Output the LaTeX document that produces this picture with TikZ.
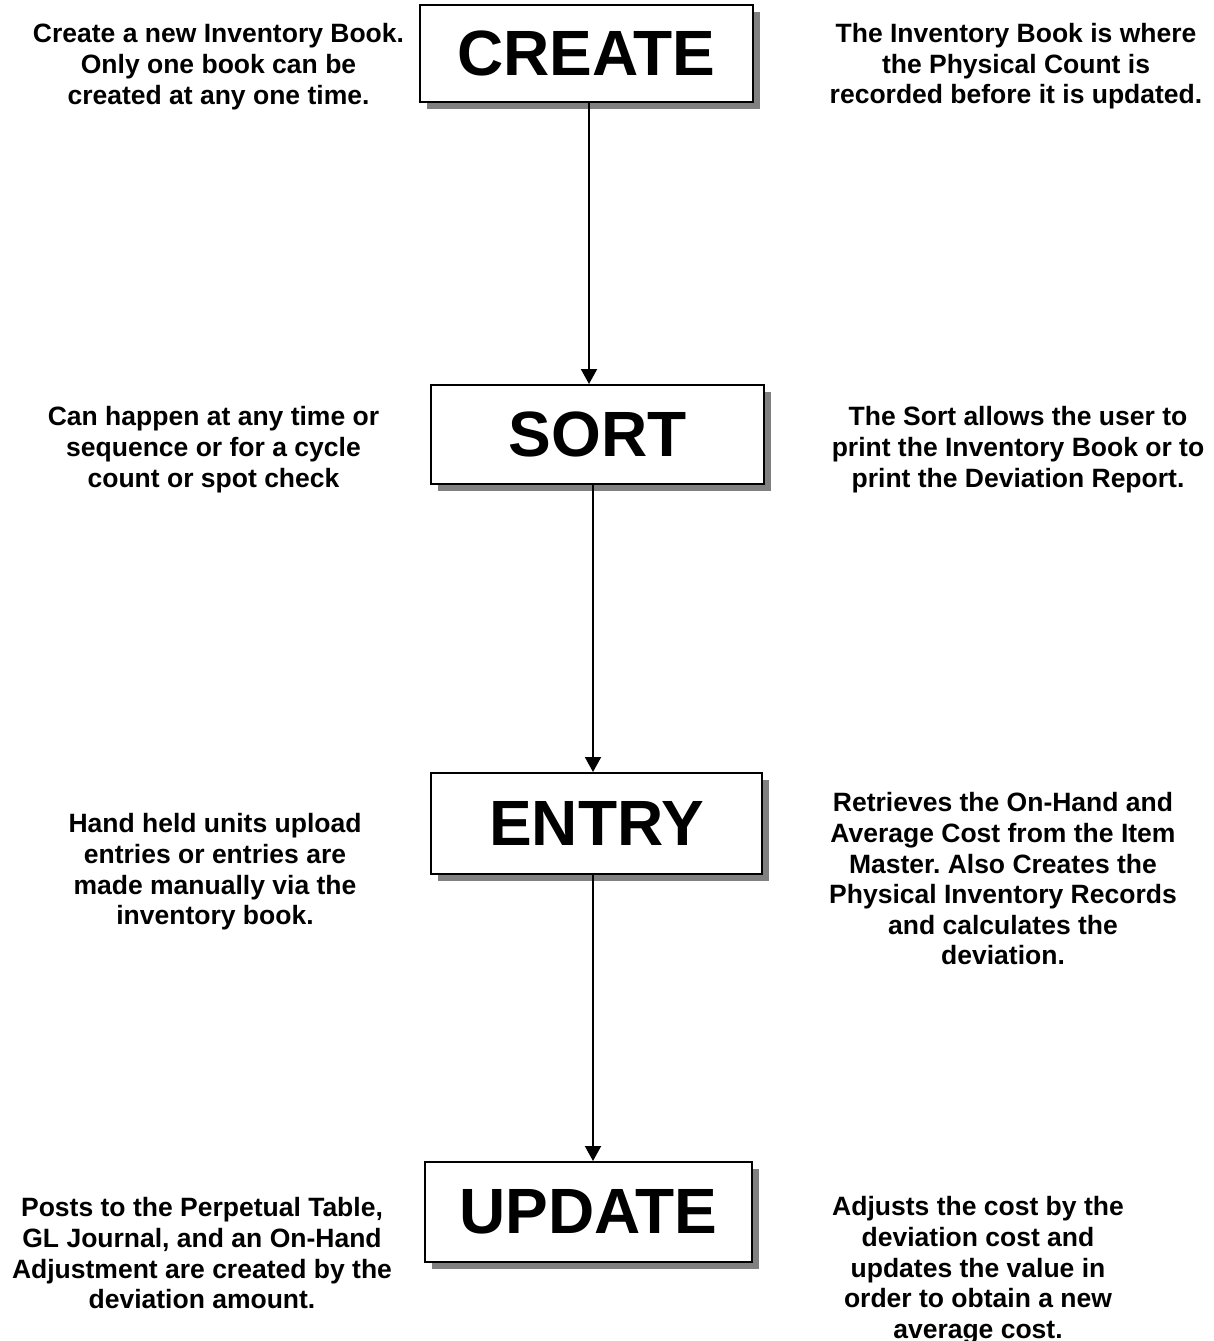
\documentclass[tikz,border=0pt]{standalone}
\usepackage{fontspec}
\setmainfont{Liberation Sans}
\usetikzlibrary{arrows.meta,shadows}
\frenchspacing
\begin{document}
\begin{tikzpicture}[x=1pt,y=-1pt,
  stepbox/.style={draw=black, line width=2pt, fill=white, inner sep=0pt,
    font=\fontsize{64}{70}\selectfont\bfseries,
    drop shadow={shadow xshift=7pt, shadow yshift=-7pt, fill=black!50, opacity=1}},
  desc/.style={anchor=north, inner sep=0pt, align=center,
    font=\fontsize{26.5}{30.6}\selectfont\bfseries},
  conn/.style={draw=black, line width=2pt, -{Triangle[length=15pt,width=16pt]}}]
\useasboundingbox (0,0) rectangle (1214,1341);
% boxes
\node[stepbox, minimum width=333pt, minimum height=97pt] (create) at (586.5,53.5) {CREATE};
\node[stepbox, minimum width=333pt, minimum height=99pt] (sort) at (597.5,434.5) {SORT};
\node[stepbox, minimum width=331pt, minimum height=101pt] (entry) at (596.5,823.5) {ENTRY};
\node[stepbox, minimum width=327pt, minimum height=100pt] (update) at (588.5,1212) {UPDATE};
% connector columns
\coordinate (c1) at (589,0);
\coordinate (c2) at (593,0);
\draw[conn] (create.south -| c1) -- (sort.north -| c1);
\draw[conn] (sort.south -| c2) -- (entry.north -| c2);
\draw[conn] (entry.south -| c2) -- (update.north -| c2);
% descriptions
\node[desc] (l1) at (218.5,23.5) {Create a new Inventory Book.\\Only one book can be\\created at any one time.};
\node[desc] (r1) at (1016,23) {The Inventory Book is where\\the Physical Count is\\recorded before it is updated.};
\node[desc] (l2) at (213.5,406.5) {Can happen at any time or\\sequence or for a cycle\\count or spot check};
\node[desc] (r2) at (1018,406.5) {The Sort allows the user to\\print the Inventory Book or to\\print the Deviation Report.};
\node[desc] (l3) at (215,813.5) {Hand held units upload\\entries or entries are\\made manually via the\\inventory book.};
\node[desc] (r3) at (1003,792.5) {Retrieves the On-Hand and\\Average Cost from the Item\\Master. Also Creates the\\Physical Inventory Records\\and calculates the\\deviation.};
\node[desc] (l4) at (202,1197.5) {Posts to the Perpetual Table,\\GL Journal, and an On-Hand\\Adjustment are created by the\\deviation amount.};
\node[desc] (r4) at (978,1196.5) {Adjusts the cost by the\\deviation cost and\\updates the value in\\order to obtain a new\\average cost.};
\end{tikzpicture}
\end{document}
